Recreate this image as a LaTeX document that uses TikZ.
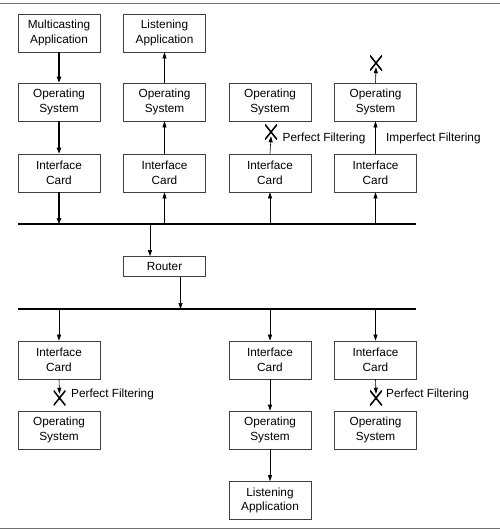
\documentclass[tikz,border=0pt]{standalone}
\usepackage{fontspec}
\setmainfont{Liberation Sans}
\usetikzlibrary{arrows.meta,calc}
\begin{document}
\begin{tikzpicture}[x=1pt,y=-1pt,
  every node/.style={font=\fontsize{11.8}{14.5}\selectfont},
  box/.style={draw=black!75,line width=0.7pt,minimum width=82pt,minimum height=38pt,align=center,inner sep=1pt},
  rbox/.style={box,minimum height=20pt},
  conn/.style={line width=0.6pt,-{Triangle[length=6pt,width=4pt]}},
  thick conn/.style={line width=1.3pt,-{Triangle[length=6pt,width=4.4pt]}},
  bus/.style={line width=1.8pt},
  rule/.style={draw=black!55,line width=1pt},
  xmark/.style={minimum width=12pt,minimum height=15pt,inner sep=0pt,
    path picture={\draw[line width=1.5pt] (path picture bounding box.north west) -- (path picture bounding box.south east)
      (path picture bounding box.north east) -- (path picture bounding box.south west);}},
  lbl/.style={anchor=west,inner sep=0pt}
]
\useasboundingbox (0,0) rectangle (500,530);
\draw[rule] (0,3) -- (500,3);
\draw[rule] (0,528) -- (500,528);
% top row
\node[box] (a1) at (59,33) {Multicasting\\Application};
\node[box] (a2) at (164.5,33) {Listening\\Application};
\node[box] (o1) at (59,102) {Operating\\System};
\node[box] (o2) at (164.5,102) {Operating\\System};
\node[box] (o3) at (270,102) {Operating\\System};
\node[box] (o4) at (375.5,102) {Operating\\System};
\node[box] (i1) at (59,173) {Interface\\Card};
\node[box] (i2) at (164.5,173) {Interface\\Card};
\node[box] (i3) at (270,173) {Interface\\Card};
\node[box] (i4) at (375.5,173) {Interface\\Card};
\coordinate (b1L) at (18,224);
\coordinate (b1R) at (416,224);
\draw[bus] (b1L) -- (b1R);
% router
\node[rbox] (r) at (164.5,266.5) {Router};
\coordinate (b2L) at (18,309);
\coordinate (b2R) at (416,309);
\draw[bus] (b2L) -- (b2R);
% bottom row
\node[box] (bi1) at (59,360) {Interface\\Card};
\node[box] (bi3) at (270,360) {Interface\\Card};
\node[box] (bi4) at (375.5,360) {Interface\\Card};
\node[box] (bo1) at (59,430) {Operating\\System};
\node[box] (bo3) at (270,430) {Operating\\System};
\node[box] (bo4) at (375.5,430) {Operating\\System};
\node[box] (ba3) at (270,500.5) {Listening\\Application};
% x marks
\node[xmark] (x3) at (271,132) {};
\node[xmark] (x4) at (376,63) {};
\node[xmark] (bx1) at (59.5,398) {};
\node[xmark] (bx4) at (376,398) {};
% labels
\node[lbl] (l3) at (282.5,138) {Perfect Filtering};
\node[lbl] (l4) at (386,138) {Imperfect Filtering};
\node[lbl] (bl1) at (71,394.5) {Perfect Filtering};
\node[lbl] (bl4) at (386,394.5) {Perfect Filtering};
% column 1 (thick, down)
\draw[thick conn] (a1) -- (o1);
\draw[thick conn] (o1) -- (i1);
\draw[thick conn] (i1.south) -- (i1.south |- b1L);
% column 2 (up)
\draw[conn] (i2.south |- b1L) -- (i2.south);
\draw[conn] (i2) -- (o2);
\draw[conn] (o2) -- (a2);
% column 3
\draw[conn] (i3.south |- b1L) -- (i3.south);
\draw[conn] (i3.north) -- ($(x3.center)!0.55!(x3.south)$);
% column 4
\draw[conn] (i4.south |- b1L) -- (i4.south);
\draw[conn] (i4) -- (o4);
\draw[conn] (o4.north) -- ($(x4.center)!0.55!(x4.south)$);
% router
\draw[conn] ([xshift=-14.5pt]r.north |- b1L) -- ([xshift=-14.5pt]r.north);
\draw[conn] ([xshift=16pt]r.south) -- ([xshift=16pt]r.south |- b2L);
% bottom
\draw[conn] (bi1.north |- b2L) -- (bi1.north);
\draw[conn] (bi3.north |- b2L) -- (bi3.north);
\draw[conn] (bi4.north |- b2L) -- (bi4.north);
\draw[conn] (bi1.south) -- ($(bx1.center)!0.55!(bx1.north)$);
\draw[conn] (bi4.south) -- ($(bx4.center)!0.55!(bx4.north)$);
\draw[conn] (bi3) -- (bo3);
\draw[conn] (bo3) -- (ba3);
\end{tikzpicture}
\end{document}
